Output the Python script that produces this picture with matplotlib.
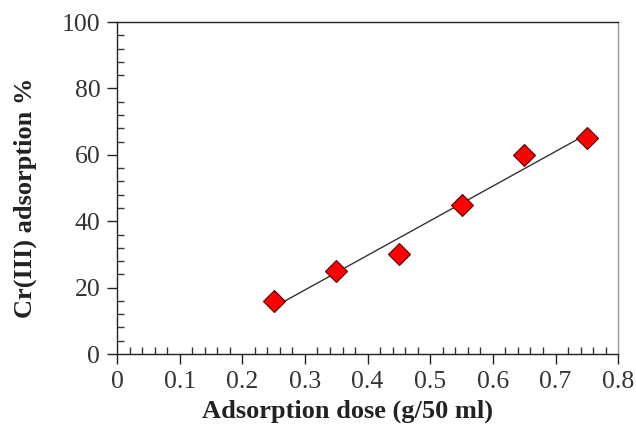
import numpy as np
import matplotlib
matplotlib.use("Agg")
import matplotlib.pyplot as plt
from matplotlib.ticker import MultipleLocator

# adsorbent dose (g/50 ml) and Cr(III) removal (%)
dose = [0.25, 0.35, 0.45, 0.55, 0.65, 0.75]
adsorption = [16, 25, 30, 45, 60, 65]
xtick_labels = ['0', '0.1', '0.2', '0.3', '0.4', '0.5', '0.6', '0.7', '0.8']

plt.rcParams['font.family'] = ['Liberation Serif', 'DejaVu Serif']

fig = plt.figure(figsize=(6.36, 4.25), dpi=100)
ax = fig.add_axes([0.184, 0.167, 0.788, 0.781])

# linear trend through the points
slope, intercept = np.polyfit(dose, adsorption, 1)
xfit = np.array([dose[0], dose[-1]])
ax.plot(xfit, slope * xfit + intercept, color='#333333', lw=1.0, zorder=2)
ax.plot(dose, adsorption, 'D', color='#ff0000', markeredgecolor='#550000',
        markeredgewidth=0.8, markersize=11, zorder=3)

ax.set_xlim(0, 0.8)
ax.set_ylim(0, 100)
ax.set_xticks(np.arange(0, 0.81, 0.1))
ax.set_xticklabels(xtick_labels)
ax.xaxis.set_minor_locator(MultipleLocator(0.02))
ax.yaxis.set_major_locator(MultipleLocator(20))
ax.yaxis.set_minor_locator(MultipleLocator(4))

ax.tick_params(which='major', direction='out', length=7, width=1, labelsize=18.5,
               colors='#222222', labelcolor='#333333', pad=5)
ax.tick_params(which='minor', direction='in', length=5, width=1, colors='#333333')

for side in ['left', 'bottom', 'top']:
    ax.spines[side].set_color('#222222')
    ax.spines[side].set_linewidth(1.0)
ax.spines['right'].set_color('#999999')
ax.spines['right'].set_linewidth(1.0)

ax.set_xlabel('Adsorption dose (g/50 ml)', fontsize=19, fontweight='bold',
              color='#222222')
ax.set_ylabel('Cr(III) adsorption %', fontsize=19, fontweight='bold',
              color='#222222', labelpad=18)
ax.xaxis.set_label_coords(0.459, -0.138)
ax.yaxis.label.set_y(0.47)

fig.savefig('out.png', dpi=100)
